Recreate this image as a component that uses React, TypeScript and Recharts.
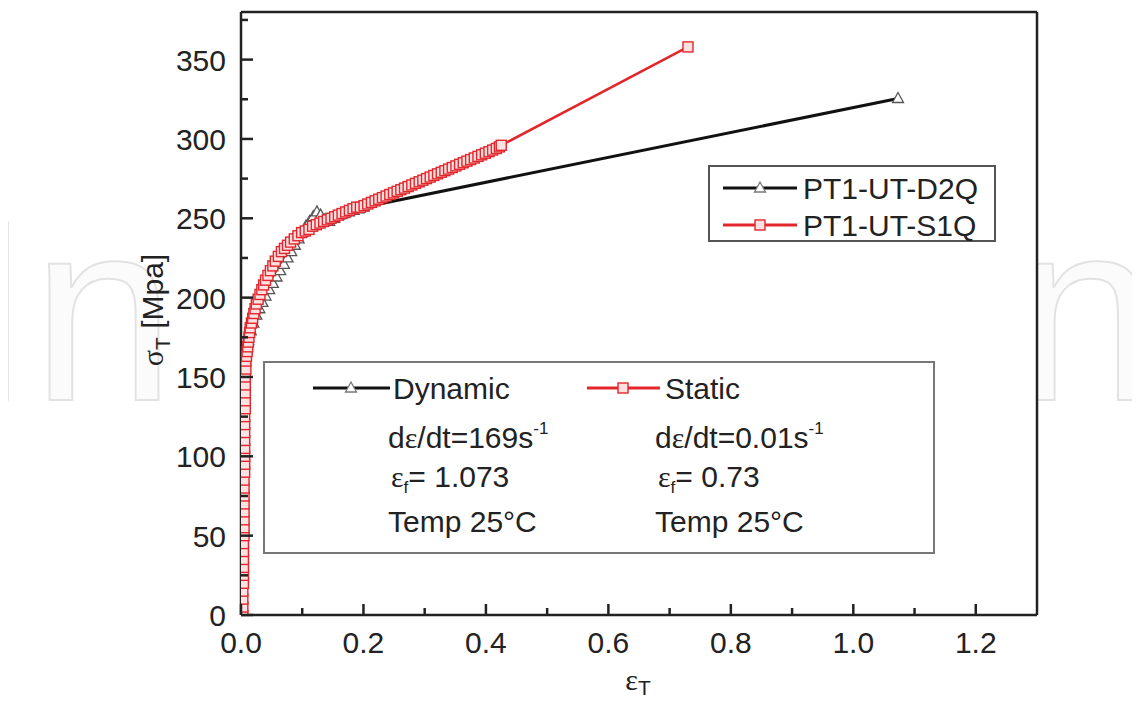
import React from 'react';
import { LineChart, Line, XAxis, YAxis, Legend, ReferenceLine, CartesianGrid } from 'recharts';

const FONT = 'Arial, "Liberation Sans", sans-serif';
const SERIF = '"Liberation Serif", "Times New Roman", serif';
const INK = '#222';

const xTicks = [0, 0.1, 0.2, 0.3, 0.4, 0.5, 0.6, 0.7, 0.8, 0.9, 1.0, 1.1, 1.2];
const yTicks = [0, 25, 50, 75, 100, 125, 150, 175, 200, 225, 250, 275, 300, 325, 350, 375];

// [true strain, true stress MPa]
const dynamicCurve: [number, number][] = [
  [0.002, 0], [0.002, 10], [0.002, 20], [0.003, 30], [0.003, 40], [0.003, 50], [0.003, 60], [0.003, 70],
  [0.004, 80], [0.004, 90], [0.004, 100], [0.004, 110], [0.004, 120], [0.005, 130], [0.005, 140], [0.005, 150],
  [0.006, 160], [0.009, 167], [0.012, 173], [0.016, 179], [0.02, 184], [0.025, 189], [0.03, 193], [0.035, 197],
  [0.04, 201], [0.046, 205], [0.052, 209], [0.058, 213], [0.064, 217], [0.07, 221], [0.076, 225], [0.082, 229],
  [0.088, 233], [0.094, 237], [0.1, 241], [0.106, 245], [0.112, 248], [0.118, 251], [0.124, 254], [0.13, 252],
  [0.137, 249], [0.144, 248], [0.152, 250], [0.16, 252], [0.168, 253], [0.176, 254], [0.184, 255], [0.192, 256],
  [0.2, 257], [1.073, 325.5],
];

const staticCurve: [number, number][] = [
  [0.003, 0], [0.003, 5], [0.003, 10], [0.003, 15], [0.004, 20], [0.004, 25], [0.004, 30], [0.004, 35],
  [0.004, 40], [0.004, 45], [0.005, 50], [0.005, 55], [0.005, 60], [0.005, 65], [0.005, 70], [0.005, 75],
  [0.005, 80], [0.005, 85], [0.006, 90], [0.006, 95], [0.006, 100], [0.006, 105], [0.006, 110], [0.006, 115],
  [0.006, 120], [0.006, 125], [0.007, 130], [0.007, 135], [0.007, 140], [0.007, 145], [0.007, 150], [0.008, 155],
  [0.008, 160], [0.009, 163], [0.01, 166], [0.011, 169], [0.012, 172], [0.013, 175], [0.014, 178], [0.015, 181],
  [0.017, 184], [0.019, 187], [0.021, 190], [0.023, 193], [0.025, 196], [0.028, 199], [0.031, 202], [0.034, 205],
  [0.037, 208], [0.04, 211], [0.044, 214], [0.048, 217], [0.052, 220], [0.056, 223], [0.061, 226], [0.066, 229],
  [0.071, 231], [0.076, 233], [0.081, 235], [0.087, 237], [0.093, 239], [0.099, 241], [0.105, 242], [0.111, 243],
  [0.117, 245], [0.123, 246], [0.129, 247], [0.135, 248], [0.141, 249], [0.147, 250], [0.153, 251], [0.159, 252],
  [0.165, 253], [0.171, 254], [0.177, 255], [0.183, 256], [0.189, 257], [0.195, 257], [0.201, 258], [0.207, 259],
  [0.213, 260], [0.219, 261], [0.225, 262], [0.231, 263], [0.237, 264], [0.243, 265], [0.249, 266], [0.255, 267],
  [0.261, 268], [0.267, 269], [0.273, 270], [0.279, 271], [0.285, 272], [0.291, 273], [0.297, 274], [0.303, 275],
  [0.309, 276], [0.315, 277], [0.321, 278], [0.327, 279], [0.333, 280], [0.339, 281], [0.345, 282], [0.351, 283],
  [0.357, 284], [0.363, 285], [0.369, 286], [0.375, 287], [0.381, 288], [0.387, 289], [0.393, 290], [0.399, 291],
  [0.405, 292], [0.411, 293], [0.417, 294], [0.422, 295], [0.425, 296], [0.73, 358],
];

const dynamicData = dynamicCurve.map(([x, y]) => ({ x, y }));
const staticData = staticCurve.map(([x, y]) => ({ x, y }));

const BLACK = '#111';
const RED = '#e3262b';

const W = 1124;
const H = 690;

const triPoints = (cx: number, cy: number) =>
  `${cx},${cy - 6} ${cx - 5.5},${cy + 4} ${cx + 5.5},${cy + 4}`;

const TriangleDot = (props: any) => {
  const { cx, cy, index } = props;
  if (cx == null || cy == null) return null;
  return <polygon key={`t-${index}`} points={triPoints(cx, cy)} fill="#fff" stroke="#555" strokeWidth={1.3} />;
};

const SquareDot = (props: any) => {
  const { cx, cy, index } = props;
  if (cx == null || cy == null) return null;
  return (
    <rect key={`s-${index}`} x={cx - 5} y={cy - 5} width={10} height={10} fill="#fbe1e1" stroke={RED} strokeWidth={1.4} />
  );
};

const XTick = (props: any) => {
  const { x, y, payload } = props;
  const v = payload.value as number;
  const major = Math.round(v * 10) % 2 === 0;
  return (
    <g>
      <line x1={x} x2={x} y1={y} y2={y - (major ? 11 : 7)} stroke={INK} strokeWidth={2.5} />
      {major && (
        <text x={x} y={y + 38} textAnchor="middle" fontSize={30} fill={INK} fontFamily={FONT}>
          {v.toFixed(1)}
        </text>
      )}
    </g>
  );
};

const YTick = (props: any) => {
  const { x, y, payload } = props;
  const v = payload.value as number;
  const major = v % 50 === 0;
  return (
    <g>
      <line x1={x} x2={x + (major ? 12 : 7)} y1={y} y2={y} stroke={INK} strokeWidth={2.5} />
      {major && (
        <text x={x - 15} y={y + 11} textAnchor="end" fontSize={30} fill={INK} fontFamily={FONT}>
          {v}
        </text>
      )}
    </g>
  );
};

const YTitle = () => (
  <text
    x={155}
    y={302}
    transform="rotate(-90, 155, 302)"
    textAnchor="middle"
    fontSize={30}
    fill={INK}
    fontFamily={FONT}
  >
    <tspan fontFamily={SERIF}>σ</tspan>
    <tspan fontSize={21} dy={7}>T</tspan>
    <tspan dy={-7}> [Mpa]</tspan>
  </text>
);

const XTitle = () => (
  <text x={630} y={682} textAnchor="middle" fontSize={30} fill={INK} fontFamily={SERIF}>
    <tspan>ε</tspan>
    <tspan fontSize={21} dy={5} fontFamily={FONT}>T</tspan>
  </text>
);

const renderLegend = (props: any) => {
  const items = props.payload || [];
  return (
    <svg width={288} height={77} style={{ display: 'block' }}>
      <rect x={1} y={1} width={286} height={75} fill="#fff" stroke="#555" strokeWidth={2} />
      {items.map((it: any, i: number) => {
        const cy = 23 + i * 37;
        const isRed = it.color === RED;
        return (
          <g key={it.value}>
            <line x1={15} x2={89} y1={cy} y2={cy} stroke={it.color} strokeWidth={3} />
            {isRed ? (
              <rect x={47} y={cy - 5} width={10} height={10} fill="#fbe1e1" stroke={RED} strokeWidth={1.4} />
            ) : (
              <polygon points={triPoints(52, cy)} fill="#fff" stroke="#777" strokeWidth={1.3} />
            )}
            <text x={95} y={cy + 11} fontSize={30} fill={INK} fontFamily={FONT}>
              {it.value}
            </text>
          </g>
        );
      })}
    </svg>
  );
};

const ConditionsBox = () => {
  const t = { fontSize: 30, fill: INK, fontFamily: FONT } as const;
  return (
    <svg width={672} height={193} style={{ position: 'absolute', left: 255, top: 353 }}>
      <rect x={1} y={1} width={670} height={191} fill="none" stroke="#777" strokeWidth={2} />
      <line x1={50} x2={127} y1={27} y2={27} stroke={BLACK} strokeWidth={3} />
      <polygon points={triPoints(88, 27)} fill="#fff" stroke="#777" strokeWidth={1.3} />
      <text x={130} y={38} {...t}>Dynamic</text>
      <line x1={324} x2={397} y1={27} y2={27} stroke={RED} strokeWidth={3} />
      <rect x={355} y={22} width={10} height={10} fill="#fbe1e1" stroke={RED} strokeWidth={1.4} />
      <text x={402} y={38} {...t}>Static</text>

      <text x={125} y={87} {...t}>
        d<tspan fontFamily={SERIF}>ε</tspan>/dt=169s<tspan fontSize={17} dy={-14}>-1</tspan>
      </text>
      <text x={392} y={87} {...t}>
        d<tspan fontFamily={SERIF}>ε</tspan>/dt=0.01s<tspan fontSize={17} dy={-14}>-1</tspan>
      </text>

      <text x={128} y={126} {...t}>
        <tspan fontFamily={SERIF}>ε</tspan><tspan fontSize={17} dy={6}>f</tspan><tspan dy={-6}>= 1.073</tspan>
      </text>
      <text x={395} y={126} {...t}>
        <tspan fontFamily={SERIF}>ε</tspan><tspan fontSize={17} dy={6}>f</tspan><tspan dy={-6}>= 0.73</tspan>
      </text>

      <text x={125} y={171} {...t}>Temp 25°C</text>
      <text x={392} y={171} {...t}>Temp 25°C</text>
    </svg>
  );
};

const Watermark = () => (
  <svg width={1140} height={H} style={{ position: 'absolute', left: -8, top: 0 }}>
    <g fill="#fbfbfb" stroke="#e2e2e2" strokeWidth={2} fontFamily={FONT} fontSize={258}>
      <text x={-40} y={392}>In</text>
      <text x={1014} y={392}>n</text>
    </g>
  </svg>
);

export default function App() {
  return (
    <div style={{ position: 'relative', width: W, height: H }}>
      <Watermark />
      <div style={{ position: 'absolute', left: 0, top: 0 }}>
        <LineChart width={W} height={H} margin={{ top: 4, right: 95, left: 0, bottom: 0 }}>
          <CartesianGrid horizontal={false} vertical={false} fill="#fff" />
          <XAxis
            type="number"
            dataKey="x"
            domain={[0, 1.3]}
            ticks={xTicks}
            tick={(p: any) => <XTick {...p} />}
            tickLine={false}
            tickSize={0}
            tickMargin={0}
            height={83}
            interval={0}
            allowDataOverflow
            axisLine={{ stroke: INK, strokeWidth: 2.5 }}
            label={{ content: () => <XTitle /> }}
          />
          <YAxis
            type="number"
            domain={[0, 380]}
            ticks={yTicks}
            tick={(p: any) => <YTick {...p} />}
            tickLine={false}
            tickSize={0}
            tickMargin={0}
            width={233}
            interval={0}
            allowDataOverflow
            axisLine={{ stroke: INK, strokeWidth: 2.5 }}
            label={{ content: () => <YTitle /> }}
          />
          <ReferenceLine y={380} stroke={INK} strokeWidth={2.5} />
          <ReferenceLine x={1.3} stroke={INK} strokeWidth={2.5} />
          <Line
            data={dynamicData}
            dataKey="y"
            name="PT1-UT-D2Q"
            stroke={BLACK}
            strokeWidth={3}
            dot={(p: any) => <TriangleDot key={`t-${p.index}`} {...p} />}
            isAnimationActive={false}
          />
          <Line
            data={staticData}
            dataKey="y"
            name="PT1-UT-S1Q"
            stroke={RED}
            strokeWidth={2.5}
            dot={(p: any) => <SquareDot key={`s-${p.index}`} {...p} />}
            isAnimationActive={false}
          />
          <Legend
            layout="horizontal"
            verticalAlign="middle"
            align="center"
            content={renderLegend}
            wrapperStyle={{ position: 'absolute', left: 700, top: 157, width: 288, height: 77 }}
          />
        </LineChart>
      </div>
      <ConditionsBox />
    </div>
  );
}
